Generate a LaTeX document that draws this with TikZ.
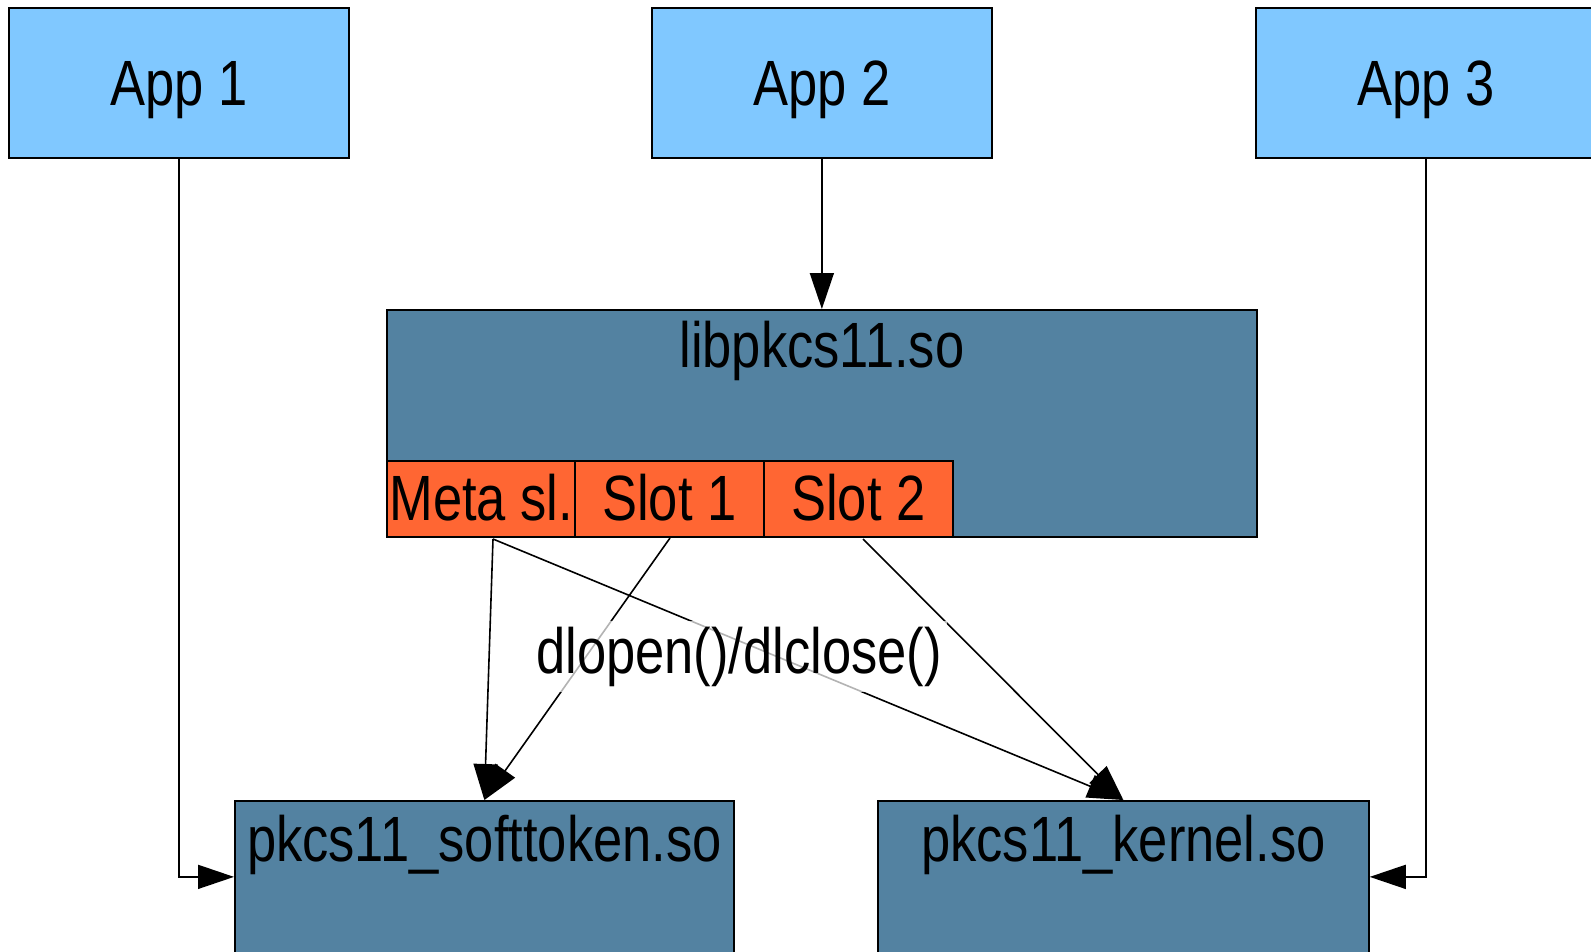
\documentclass[tikz,border=0pt]{standalone}
\usepackage{fontspec}
\setmainfont{Liberation Sans}[FakeStretch=0.82]
\usetikzlibrary{arrows.meta}
\definecolor{appblue}{HTML}{80C8FF}
\definecolor{libblue}{HTML}{5382A1}
\definecolor{slotorange}{HTML}{FF6633}
\tikzset{
  box/.style={draw=black, line width=1.3pt, inner sep=0pt, anchor=north west},
  appbox/.style={box, fill=appblue, minimum width=340*0.75pt, minimum height=150*0.75pt},
  libbox/.style={box, fill=libblue},
  slotbox/.style={box, fill=slotorange, minimum width=189*0.75pt, minimum height=76*0.75pt},
  txt/.style={inner sep=0pt, anchor=base, font=\fontsize{48}{58}\selectfont},
  conn/.style={draw=black, line width=1.2pt, -{Triangle[length=27pt,width=18pt]}},
  lbl/.style={fill=white, fill opacity=0.7, text opacity=1, inner sep=4pt, font=\fontsize{48}{58}\selectfont}
}
\begin{document}
\begin{tikzpicture}[x=0.75pt,y=-0.75pt]
\useasboundingbox (0,0) rectangle (1591,951);
\clip (0,0) rectangle (1591,951);
% apps
\node[appbox] (app1) at (8,7) {};
\node[appbox] (app2) at (651,7) {};
\node[appbox] (app3) at (1255,7) {};
\node[txt] (app1t) at ([yshift=-23*0.75pt]app1.center) {App 1};
\node[txt] (app2t) at ([yshift=-23*0.75pt]app2.center) {App 2};
\node[txt] (app3t) at ([yshift=-23*0.75pt]app3.center) {App 3};
% lib
\node[libbox, minimum width=870*0.75pt, minimum height=227*0.75pt] (lib) at (386,309) {};
\node[txt] (libt) at ([yshift=-58*0.75pt]lib.north) {libpkcs11.so};
\node[slotbox] (meta) at (386,460) {};
\node[slotbox] (slot1) at (574,460) {};
\node[slotbox] (slot2) at (763,460) {};
\node[txt] (metat) at ([yshift=-22*0.75pt]meta.center) {Meta sl.};
\node[txt] (slot1t) at ([yshift=-22*0.75pt]slot1.center) {Slot 1};
\node[txt] (slot2t) at ([yshift=-22*0.75pt]slot2.center) {Slot 2};
% bottom libs
\node[libbox, minimum width=499*0.75pt, minimum height=152*0.75pt] (soft) at (234,800) {};
\node[libbox, minimum width=491*0.75pt, minimum height=152*0.75pt] (kern) at (877,800) {};
\node[txt] (softt) at ([yshift=-61*0.75pt]soft.north) {pkcs11\_softtoken.so};
\node[txt] (kernt) at ([yshift=-61*0.75pt]kern.north) {pkcs11\_kernel.so};
% start points below slots
\coordinate (ms) at (493,539);
\coordinate (s1) at (670,538);
\coordinate (s2) at (863,539);
% connectors
\draw[conn] (app2.south) -- (app2.south |- lib.north);
\draw[conn] (app1.south) |- (soft.west);
\draw[conn] (app3.south) |- (kern.east);
\draw[conn] (ms) -- (soft.north);
\draw[conn] (ms) -- (kern.north);
\draw[conn] (s1) -- (soft.north);
\draw[conn] (s2) -- (kern.north);
% label
\node[lbl, anchor=base] (dl) at (739,673) {dlopen()/dlclose()};
\end{tikzpicture}
\end{document}
